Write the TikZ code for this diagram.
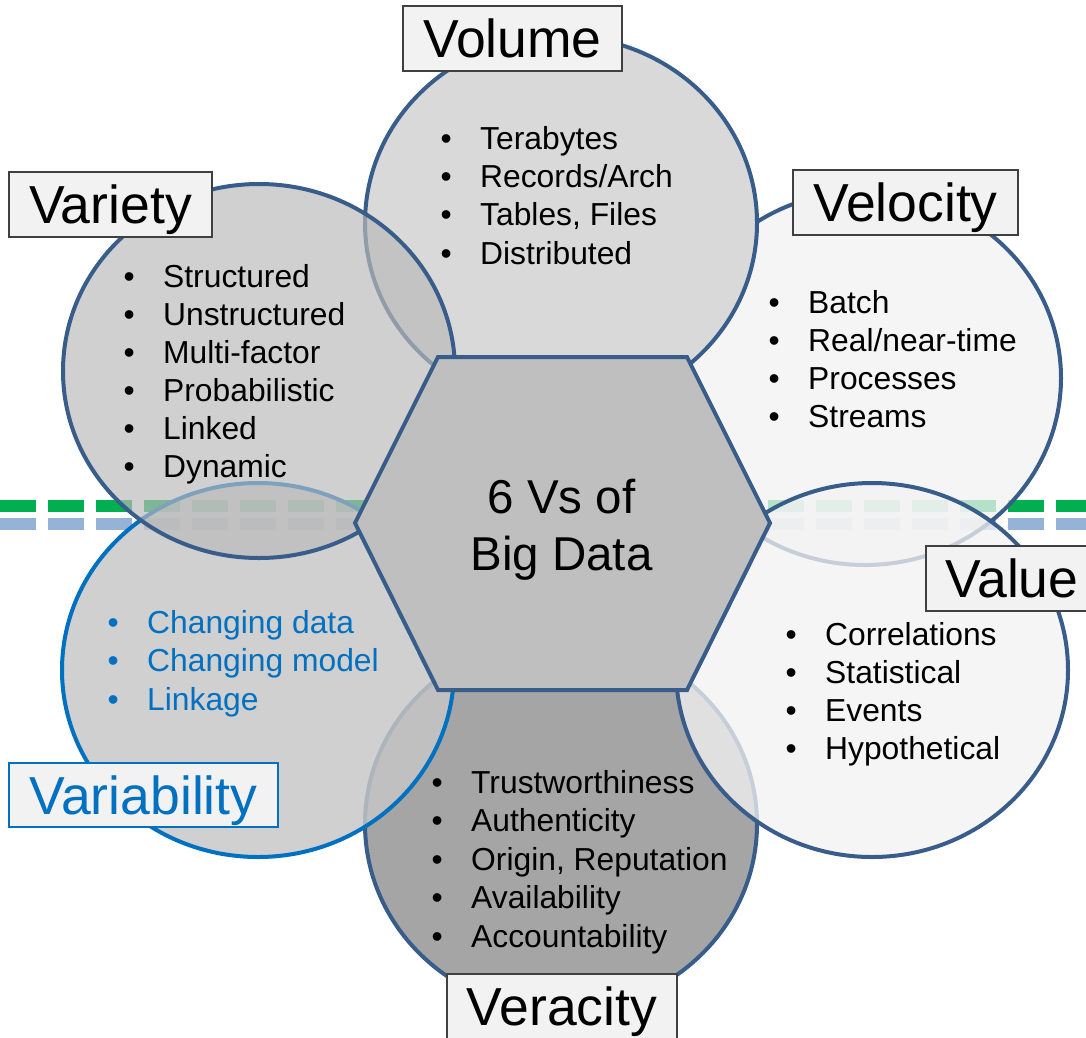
\documentclass[tikz,border=0pt]{standalone}
\usepackage{fontspec}
\setmainfont{Liberation Sans}
\usetikzlibrary{shapes.geometric}

\definecolor{rim}{HTML}{385D8A}
\definecolor{vblue}{HTML}{0070C0}
\definecolor{dashgreen}{HTML}{00B050}
\definecolor{dashblue}{HTML}{95B3D7}
\definecolor{tagfill}{HTML}{F2F2F2}
\definecolor{tagrim}{HTML}{404040}
\definecolor{palefill}{HTML}{F2F2F2}
\definecolor{volfill}{HTML}{D9D9D9}
\definecolor{verfill}{HTML}{A5A5A5}
\definecolor{varfill}{gray}{0.73}
\definecolor{vbfill}{gray}{0.776}
\definecolor{hexfill}{HTML}{BFBFBF}

\newcommand\itemfont{\fontsize{31.8}{38}\selectfont}
\newcommand\tagfont{\fontsize{53.5}{62}\selectfont}
\newcommand\hubfont{\fontsize{47.5}{57}\selectfont}
\newcommand\bul{\llap{•\hspace{28.5pt}}}

\tikzset{
  vring/.style={ellipse, draw=rim, line width=4pt, minimum width=392pt,
    minimum height=374pt, inner sep=0pt, outer sep=0pt},
  tag/.style={draw=tagrim, fill=tagfill, line width=1.3pt, font=\tagfont,
    inner sep=0pt, text height=38.3pt, text depth=0pt, minimum height=65pt},
  item/.style={font=\itemfont, anchor=base west, inner sep=0pt},
  hub/.style={font=\hubfont, anchor=base, inner sep=0pt},
  guide/.style={line width=12pt, dash pattern=on 36pt off 12pt}
}

\begin{document}
\begin{tikzpicture}[x=1pt,y=-1pt]
\useasboundingbox (0,0) rectangle (1086,1037);

% horizontal dashed guides, beneath the rings
\coordinate (gL) at (0,506);
\coordinate (gR) at (1086,506);
\coordinate (bL) at (0,524);
\coordinate (bR) at (1086,524);
\draw[guide, dashgreen] (gL) -- (gR);
\draw[guide, dashblue] (bL) -- (bR);

% the six rings, bottom to top
\node[vring, fill=palefill, fill opacity=0.75] (velocity) at (865,378) {};
\node[vring, fill=verfill] (veracity) at (561,824) {};
\node[vring, fill=volfill] (volume) at (561,223) {};
\node[vring, draw=vblue, fill=vbfill, fill opacity=0.83] (variability) at (258,670) {};
\node[vring, fill=varfill, fill opacity=0.68] (variety) at (259,371) {};
\node[vring, fill=palefill, fill opacity=0.77] (value) at (872,670) {};

% central hexagon
\coordinate (h1) at (438,357);
\coordinate (h2) at (687,357);
\coordinate (h3) at (770,523);
\coordinate (h4) at (687,690);
\coordinate (h5) at (438,690);
\coordinate (h6) at (355,523);
\draw[rim, line width=4pt, fill=hexfill] (h1) -- (h2) -- (h3) -- (h4) -- (h5) -- (h6) -- cycle;
\node[hub] (hubA) at (561.5,513) {6 Vs of};
\node[hub] (hubB) at (561.5,570) {Big Data};

% bullet lists
\foreach \t [count=\i from 0] in {Terabytes, Records/Arch, {Tables, Files}, Distributed}
  \node[item, name=vol-\i] at (480,149+38.4*\i) {\bul\t};
\foreach \t [count=\i from 0] in {Structured, Unstructured, Multi-factor, Probabilistic, Linked, Dynamic}
  \node[item, name=var-\i] at (163,287+38*\i) {\bul\t};
\foreach \t [count=\i from 0] in {Batch, Real/near-time, Processes, Streams}
  \node[item, name=vel-\i] at (808,313+38.3*\i) {\bul\t};
\foreach \t [count=\i from 0] in {Correlations, Statistical, Events, Hypothetical}
  \node[item, name=val-\i] at (825,645+38.3*\i) {\bul\t};
\foreach \t [count=\i from 0] in {Changing data, Changing model, Linkage}
  \node[item, text=vblue, name=vb-\i] at (147,633+38.5*\i) {\bul\t};
\foreach \t [count=\i from 0] in {Trustworthiness, Authenticity, {Origin, Reputation}, Availability, Accountability}
  \node[item, name=ver-\i] at (471,793+38.5*\i) {\bul\t};

% title tags
\node[tag, minimum width=219pt] (tVolume) at (512.5,38.5) {Volume};
\node[tag, minimum width=203pt] (tVariety) at (110.5,204.5) {Variety};
\node[tag, minimum width=225pt] (tVelocity) at (905.5,202.5) {Velocity};
\node[tag, minimum width=172pt] (tValue) at (1012,578.5) {Value};
\node[tag, draw=vblue, text=vblue, minimum width=269pt, minimum height=64pt] (tVariability) at (143.5,795) {Variability};
\node[tag, minimum width=230pt] (tVeracity) at (562,1006.5) {Veracity};
\end{tikzpicture}
\end{document}
